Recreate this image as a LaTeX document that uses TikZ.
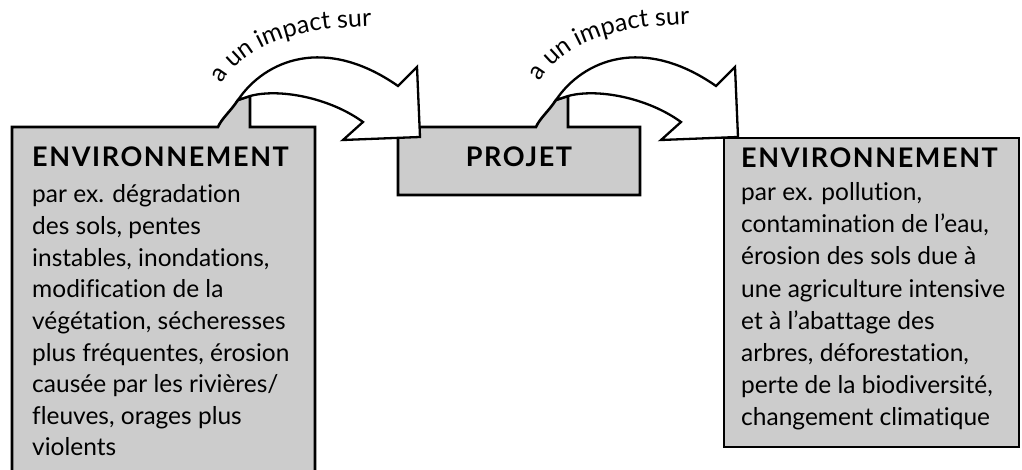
\documentclass[tikz,border=0pt]{standalone}
\usepackage{fontspec}
\setmainfont{Lato}[Ligatures={NoCommon}]
\usetikzlibrary{decorations.text}
\tikzset{
  boxshape/.style={draw=black, fill=boxgrey, line width=2.6pt, line join=miter},
  arrowshape/.style={draw=black, fill=white, line width=2.3pt, line join=miter},
  titletext/.style={anchor=base west, inner sep=0pt, font=\fontsize{27}{30}\selectfont\bfseries\addfontfeature{LetterSpace=6}},
  bodytext/.style={anchor=base west, inner sep=0pt, font=\fontsize{24.5}{30}\selectfont},
}
\definecolor{boxgrey}{HTML}{CCCCCC}
\newcommand\lblfont{\fontsize{25}{28}\selectfont}
\begin{document}
\begin{tikzpicture}[x=1pt,y=-1pt]
\useasboundingbox (0,0) rectangle (1022,470);
% left box with tab
\path[boxshape] (12,127) -- (218,127) .. controls (222,118) and (230,112) .. (238,100) -- (250,96) -- (250,127) -- (315,127) -- (315,480) -- (12,480) -- cycle;
% projet box with tab
\path[boxshape] (398,127) -- (536,127) .. controls (540,118) and (548,112) .. (556,100) -- (568,96) -- (568,127) -- (640,127) -- (640,195) -- (398,195) -- cycle;
% right box
\path[boxshape] (724,138) rectangle (1019,447);
% arrows
\path[arrowshape] (238,100) .. controls (265,60) and (325,35) .. (398,86) -- (417,67) -- (420,137) -- (343,140) -- (363,122) .. controls (330,98) and (280,88) .. (250,96) -- cycle;
\path[arrowshape] (556,100) .. controls (583,60) and (643,35) .. (716,86) -- (735,67) -- (738,137) -- (661,140) -- (681,122) .. controls (648,98) and (598,88) .. (568,96) -- cycle;
% labels
\path[decorate, decoration={text along path, text={|\lblfont|a un impact sur}}] (222,84) .. controls (245,45) and (295,26) .. (385,26);
\path[decorate, decoration={text along path, text={|\lblfont|a un impact sur}}] (540,82) .. controls (563,43) and (613,24) .. (703,24);
% texts
\node[titletext] (t1) at (32,167) {ENVIRONNEMENT};
\foreach \t [count=\i] in {{par ex. dégradation},{des sols, pentes},{instables, inondations,},{modification de la},{végétation, sécheresses},{plus fréquentes, érosion},{causée par les rivières/},{fleuves, orages plus},{violents}}
  \node[bodytext] (l\i) at (32,{203+31.6*(\i-1)}) {\t};
\node[titletext, anchor=base] (t2) at (519,167) {PROJET};
\node[titletext] (t3) at (741,168) {ENVIRONNEMENT};
\foreach \t [count=\i] in {{par ex. pollution,},{contamination de l’eau,},{érosion des sols due à},{une agriculture intensive},{et à l’abattage des},{arbres, déforestation,},{perte de la biodiversité,},{changement climatique}}
  \node[bodytext] (r\i) at (741,{201+32*(\i-1)}) {\t};
\end{tikzpicture}
\end{document}
